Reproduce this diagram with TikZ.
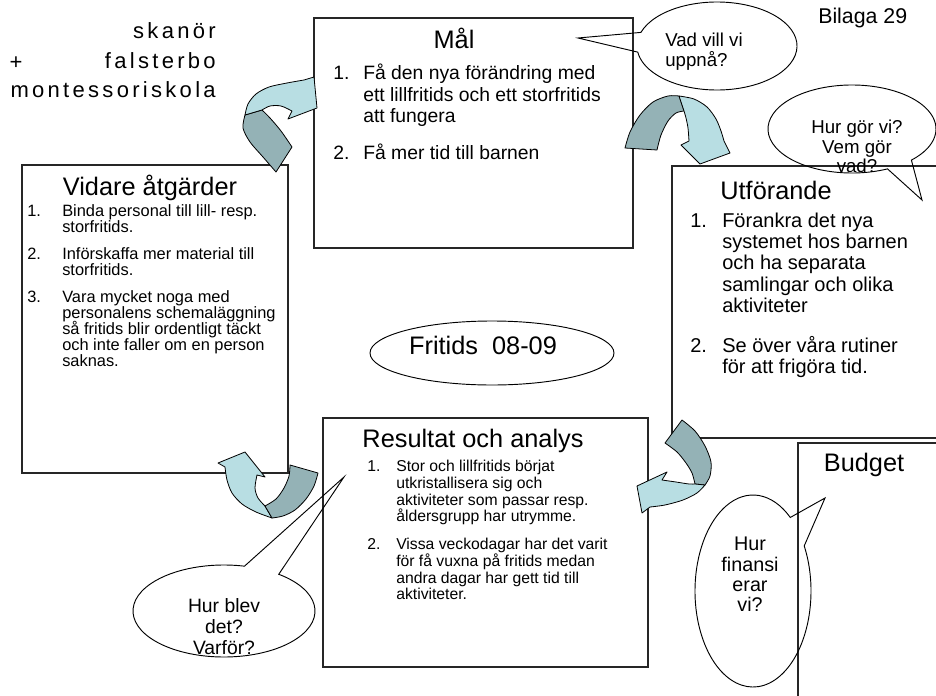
\documentclass[tikz,border=0pt]{standalone}
\usepackage{fontspec}
\setmainfont{Liberation Sans}
\newfontfamily\spacedfont[LetterSpace=15]{Liberation Sans}
\usepackage{tikz}

\definecolor{lightteal}{RGB}{184,222,227}
\definecolor{darkteal}{RGB}{148,178,182}

\newcommand{\headfont}{\spacedfont\fontsize{16.5}{19}\selectfont}
\newcommand{\titlefont}{\fontsize{19}{22}\selectfont}
\newcommand{\malfont}{\fontsize{14.5}{16.1}\selectfont\lineskiplimit=-\maxdimen}
\newcommand{\vidfont}{\fontsize{12.3}{12}\selectfont\lineskiplimit=-\maxdimen}
\newcommand{\utffont}{\fontsize{15}{16}\selectfont\lineskiplimit=-\maxdimen}
\newcommand{\resfont}{\fontsize{11.8}{12.5}\selectfont\lineskiplimit=-\maxdimen}
\newcommand{\tallstrut}{\rule{0pt}{0.8em}}

\tikzstyle{box} = [draw=black!85, line width=0.9pt]
\tikzstyle{bubble} = [draw, line width=0.7pt]
\tikzstyle{lightband} = [fill=lightteal, draw, line width=0.6pt, line join=round]
\tikzstyle{darkband} = [fill=darkteal, draw, line width=0.6pt, line join=round]
\tikzstyle{title} = [anchor=base, font=\titlefont]
\tikzstyle{item} = [anchor=north west, align=left]
\tikzstyle{talk} = [anchor=north, align=center]

\begin{document}
\begin{tikzpicture}[x=0.75pt,y=-0.75pt]
	\tikzstyle{every node}=[inner sep=0pt]
	\useasboundingbox (0,0) rectangle (936,696);
	\clip (0,0) rectangle (936,696);
	
	% ------------------- Boxes ------------------- %
	\draw[box] (314,18) rectangle (633,248);
	\draw[box] (22,165) rectangle (288,473);
	\draw[box] (672,166) rectangle (980,438);
	\draw[box] (323,418) rectangle (648,667);
	\draw[box] (798,443) rectangle (980,720);
	\draw[bubble] (492,353) ellipse [x radius=122, y radius=32];
	
	% ------------------- Curved arrows ------------------- %
	% Vidare -> Mal
	\draw[darkband] plot[smooth] coordinates {(245,115) (243,128) (250,142) (263,157) (276,172)}
		-- plot[smooth] coordinates {(292,147) (281,131) (270,118) (262,110)} -- cycle;
	\draw[lightband] plot[smooth] coordinates {(245,115) (248,104) (256,94) (269,87) (287,83) (304,80)}
		-- (314,77) -- (317,108) -- (288,119)
		-- plot[smooth] coordinates {(292,111) (281,106) (270,106) (262,110)} -- cycle;
	% Mal -> Utforande
	\draw[darkband] plot[smooth] coordinates {(625,148) (630,132) (640,115) (653,102) (668,96) (679,96)}
		-- plot[smooth] coordinates {(684,111) (676,113) (668,121) (661,135) (657,150)} -- cycle;
	\draw[lightband] plot[smooth] coordinates {(679,96) (694,99) (707,107) (716,119) (721,131) (724,141)}
		-- (730,153) -- (700,164) -- (681,145)
		-- plot[smooth] coordinates {(689,141) (688,128) (686,118) (684,111)} -- cycle;
	% Utforande -> Resultat
	\draw[darkband] plot[smooth] coordinates {(682,420) (695,431) (705,446) (711,462) (710,476) (705,485)}
		-- plot[smooth] coordinates {(695,484) (692,473) (686,463) (677,452) (665,443)} -- cycle;
	\draw[lightband] plot[smooth] coordinates {(705,485) (697,493) (683,500) (665,505) (650,507)}
		-- (642,513) -- (637,486) -- (667,472)
		-- plot[smooth] coordinates {(662,480) (676,482) (689,484) (695,484)} -- cycle;
	% Resultat -> Vidare
	\draw[lightband] plot[smooth] coordinates {(272,518) (256,512) (242,504) (232,493) (227,480) (225,467)}
		-- (218,463) -- (245,452) -- (265,477)
		-- plot[smooth] coordinates {(257,475) (255,488) (258,498) (265,506)} -- cycle;
	\draw[darkband] plot[smooth] coordinates {(265,506) (276,499) (284,488) (289,476) (290,465)}
		-- plot[smooth] coordinates {(318,473) (314,486) (306,499) (295,510) (283,516) (272,518)} -- cycle;
	
	% ------------------- Speech bubbles ------------------- %
	\draw[bubble] (717,46) ++(198:80 and 44) arc[start angle=198, end angle=532, x radius=80, y radius=44] -- (578,38) -- cycle;
	\draw[bubble] (852,129) ++(65:84 and 44) arc[start angle=65, end angle=405, x radius=84, y radius=44] -- (922,200) -- cycle;
	\draw[bubble] (224,611) ++(307:91 and 46) arc[start angle=307, end angle=643, x radius=91, y radius=46] -- (344,477) -- cycle;
	\draw[bubble] (753,591) ++(332:58 and 96) arc[start angle=332, end angle=670, x radius=58, y radius=96] -- (825,498) -- cycle;
	
	% ------------------- Header ------------------- %
	\node[anchor=base east, font=\headfont] (skanor) at (216,38) {skanör};
	\node[anchor=base, font=\headfont] (plus) at (16,69) {+};
	\node[anchor=base east, font=\headfont] (falsterbo) at (216,68) {falsterbo};
	\node[anchor=base east, font=\headfont] (skola) at (216,97) {montessoriskola};
	\node[anchor=base west, font=\fontsize{16}{18}\selectfont] (bilaga) at (818,23) {Bilaga 29};
	
	% ------------------- Mal ------------------- %
	\node[title] (mal) at (454,48) {Mål};
	\node[item, font=\malfont] (mal1n) at (333,64) {\tallstrut 1.};
	\node[item, font=\malfont] (mal1) at (363,64) {\tallstrut Få den nya förändring med\\ett lillfritids och ett storfritids\\att fungera};
	\node[item, font=\malfont] (mal2n) at (333,144) {\tallstrut 2.};
	\node[item, font=\malfont] (mal2) at (363,144) {\tallstrut Få mer tid till barnen};
	
	% ------------------- Vidare atgarder ------------------- %
	\node[title] (vidare) at (150,195) {Vidare åtgärder};
	\node[item, font=\vidfont] (vid1n) at (27,203) {\tallstrut 1.};
	\node[item, font=\vidfont] (vid1) at (62,203) {\tallstrut Binda personal till lill- resp.\\storfritids.};
	\node[item, font=\vidfont] (vid2n) at (27,246) {\tallstrut 2.};
	\node[item, font=\vidfont] (vid2) at (62,246) {\tallstrut Införskaffa mer material till\\storfritids.};
	\node[item, font=\vidfont] (vid3n) at (27,289) {\tallstrut 3.};
	\node[item, font=\vidfont] (vid3) at (62,289) {\tallstrut Vara mycket noga med\\personalens schemaläggning\\så fritids blir ordentligt täckt\\och inte faller om en person\\saknas.};
	
	% ------------------- Utforande ------------------- %
	\node[title] (utf) at (776,199) {Utförande};
	\node[item, font=\utffont] (utf1n) at (690,211) {\tallstrut 1.};
	\node[item, font=\utffont] (utf1) at (722,211) {\tallstrut Förankra det nya\\systemet hos barnen\\och ha separata\\samlingar och olika\\aktiviteter};
	\node[item, font=\utffont] (utf2n) at (690,336) {\tallstrut 2.};
	\node[item, font=\utffont] (utf2) at (722,336) {\tallstrut Se över våra rutiner\\för att frigöra tid.};
	
	% ------------------- Resultat och analys ------------------- %
	\node[title] (res) at (473,447) {Resultat och analys};
	\node[item, font=\resfont] (res1n) at (367,459) {\tallstrut 1.};
	\node[item, font=\resfont] (res1) at (396,459) {\tallstrut Stor och lillfritids börjat\\utkristallisera sig och\\aktiviteter som passar resp.\\åldersgrupp har utrymme.};
	\node[item, font=\resfont] (res2n) at (367,537) {\tallstrut 2.};
	\node[item, font=\resfont] (res2) at (396,537) {\tallstrut Vissa veckodagar har det varit\\för få vuxna på fritids medan\\andra dagar har gett tid till\\aktiviteter.};
	
	% ------------------- Budget + centre ------------------- %
	\node[title] (budget) at (864,471) {Budget};
	\node[title] (fritids) at (483,354) {Fritids~~08-09};
	
	% ------------------- Bubble texts ------------------- %
	\node[anchor=north west, align=left, font=\fontsize{14}{15}\selectfont] (vad) at (665,33) {Vad vill vi\\uppnå?};
	\node[talk, font=\fontsize{14}{14.6}\selectfont] (hur) at (857,120) {Hur gör vi?\\Vem gör\\vad?};
	\node[talk, font=\fontsize{14.5}{15.8}\selectfont] (blev) at (224,598) {Hur blev\\det?\\Varför?};
	\node[talk, font=\fontsize{14.8}{15.2}\selectfont] (finans) at (750,537) {Hur\\finansi\\erar\\vi?};
\end{tikzpicture}
\end{document}
